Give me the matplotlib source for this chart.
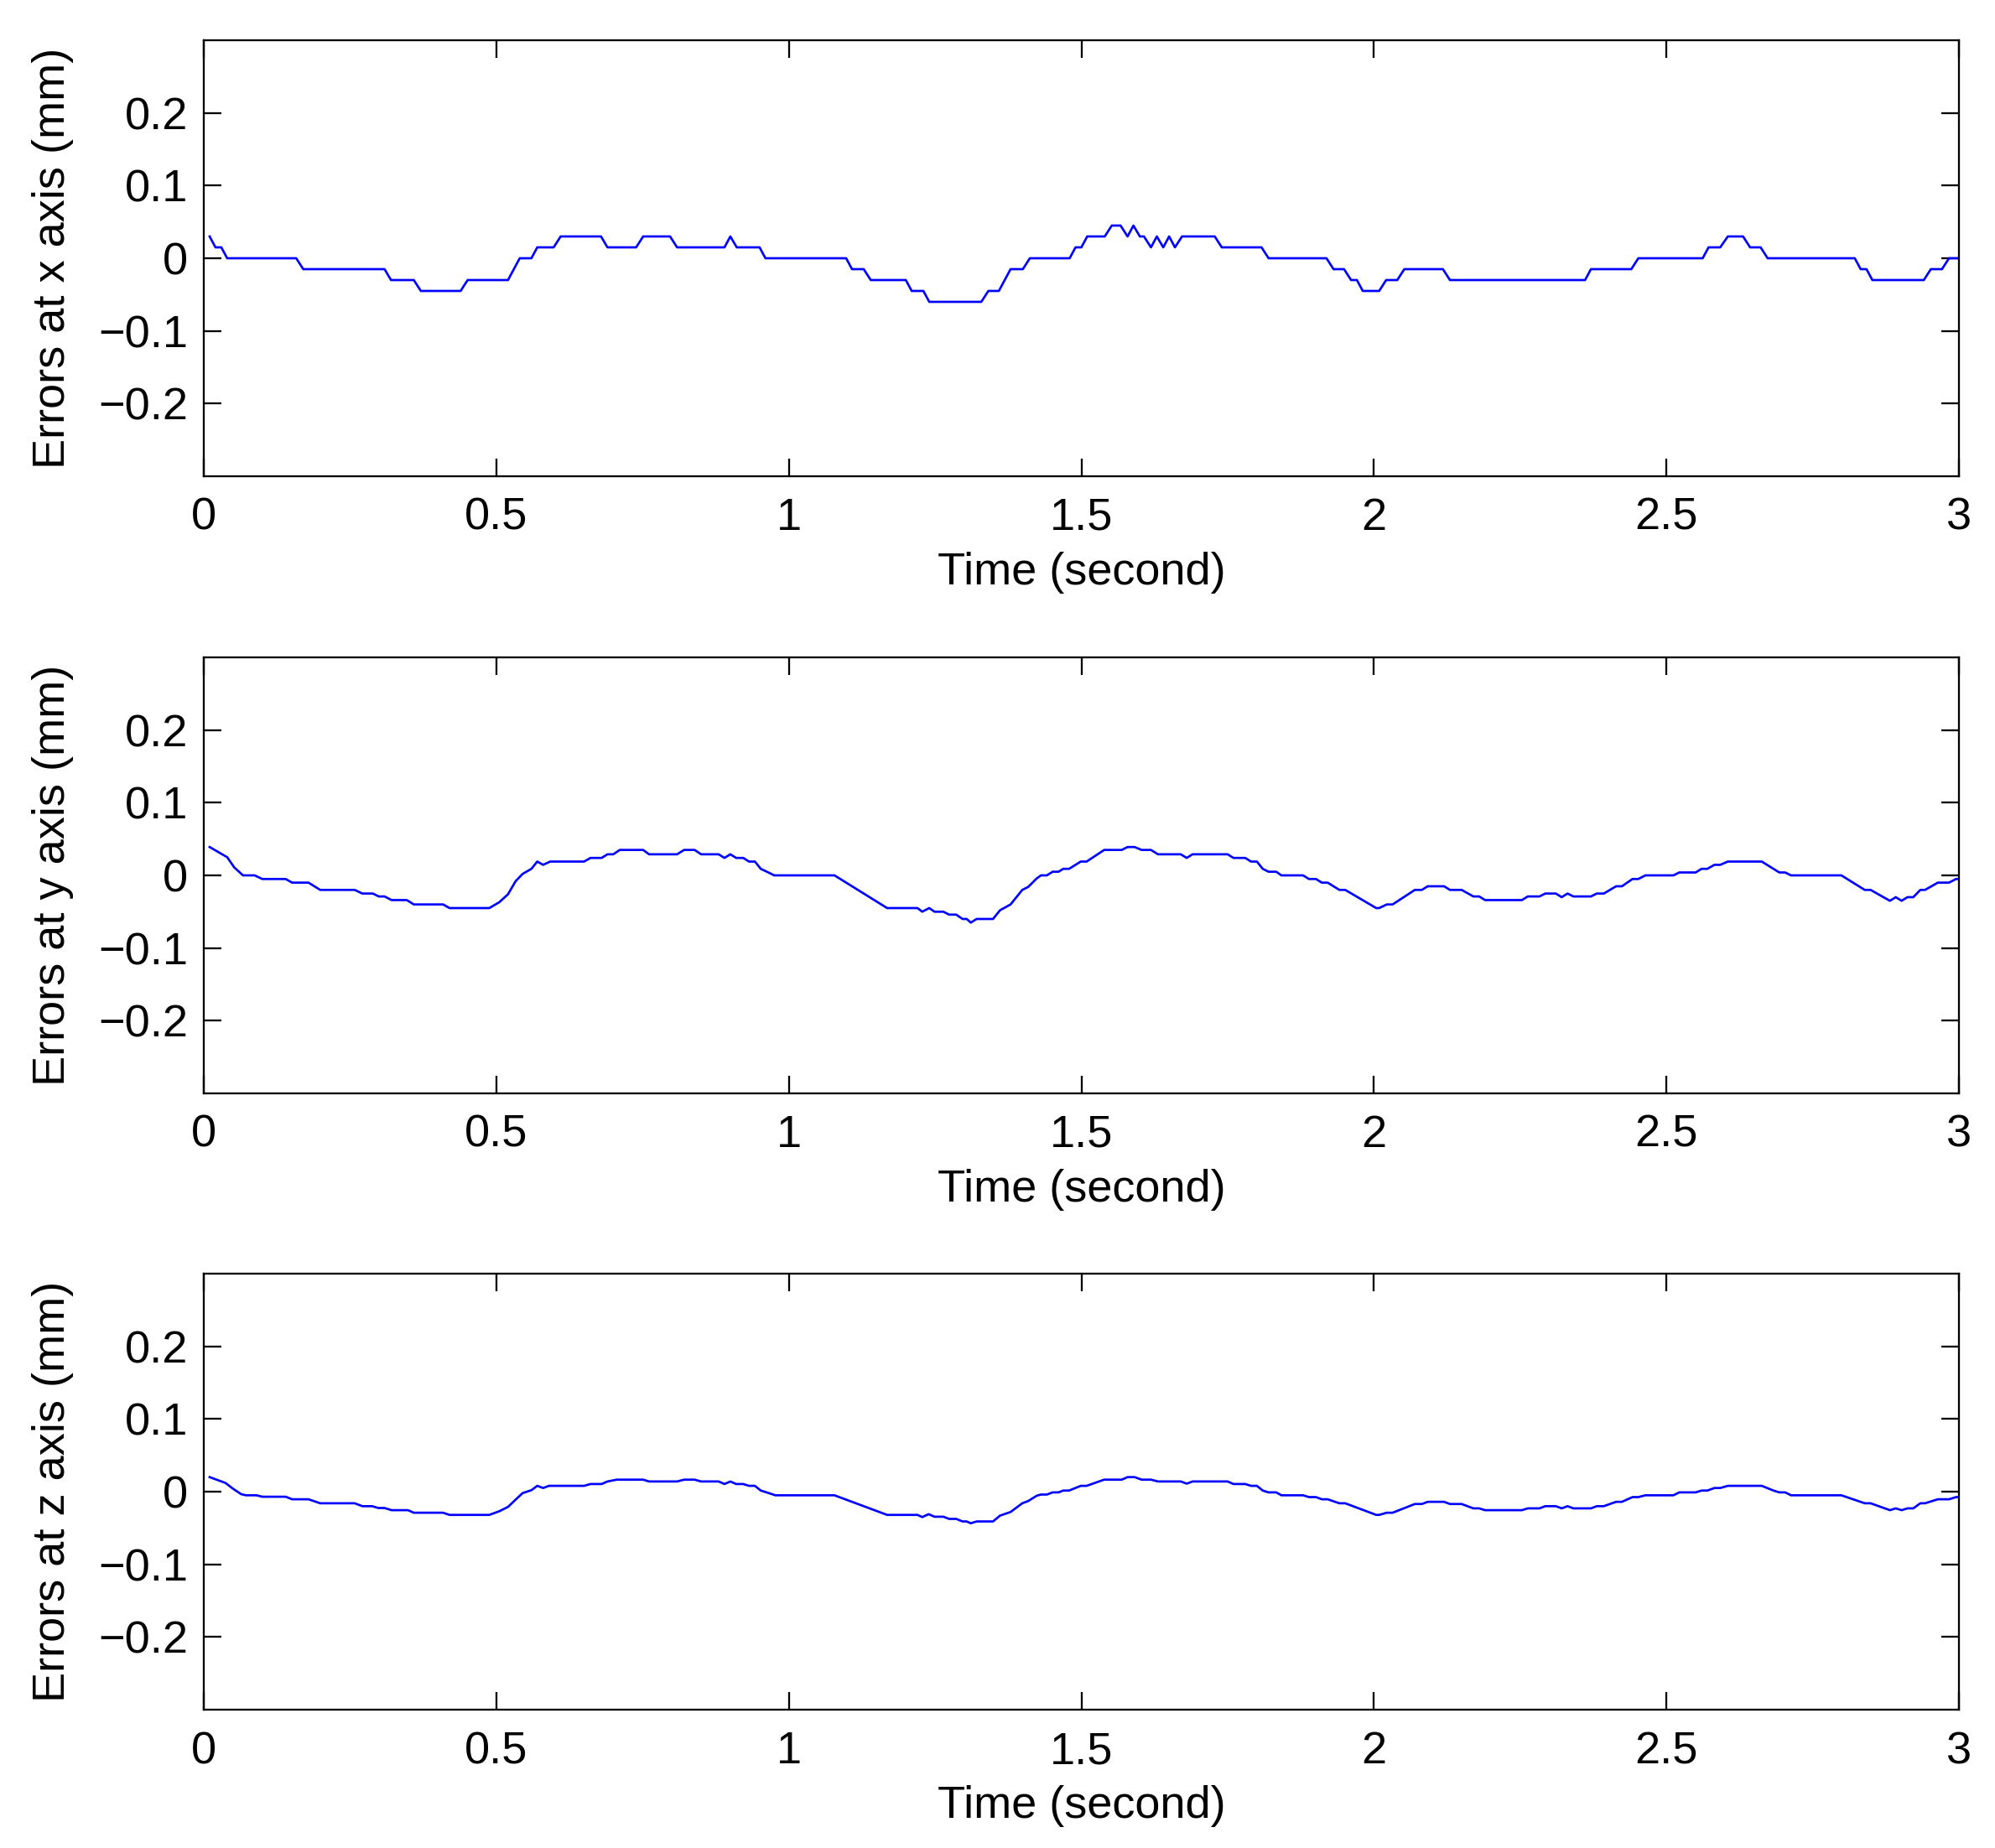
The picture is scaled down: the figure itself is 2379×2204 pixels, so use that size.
import numpy as np
import matplotlib
matplotlib.use('Agg')
from matplotlib import pyplot as plt

# error traces, read as polyline vertices (time in s, error in mm)
t_x = [0.01, 0.02, 0.03, 0.04, 0.158, 0.17, 0.309, 0.32, 0.359, 0.371, 0.439, 0.451,
       0.52, 0.54, 0.56, 0.57, 0.598, 0.61, 0.679, 0.69, 0.739, 0.751, 0.797, 0.809,
       0.89, 0.9, 0.911, 0.95, 0.96, 1.098, 1.108, 1.128, 1.14, 1.2, 1.21, 1.23, 1.24,
       1.329, 1.341, 1.359, 1.379, 1.4, 1.412, 1.48, 1.49, 1.5, 1.51, 1.54, 1.552,
       1.567, 1.579, 1.589, 1.6, 1.607, 1.619, 1.629, 1.64, 1.65, 1.66, 1.672, 1.728,
       1.74, 1.808, 1.82, 1.919, 1.931, 1.949, 1.961, 1.971, 1.981, 2.009, 2.021, 2.04,
       2.052, 2.118, 2.13, 2.361, 2.371, 2.44, 2.452, 2.562, 2.572, 2.592, 2.605, 2.631,
       2.643, 2.661, 2.673, 2.822, 2.832, 2.842, 2.852, 2.94, 2.952, 2.971, 2.983, 3.0]
err_x = [0.03, 0.015, 0.015, 0, 0, -0.015, -0.015, -0.03, -0.03, -0.045, -0.045, -0.03,
         -0.03, 0, 0, 0.015, 0.015, 0.03, 0.03, 0.015, 0.015, 0.03, 0.03, 0.015,
         0.015, 0.03, 0.015, 0.015, 0, 0, -0.015, -0.015, -0.03, -0.03, -0.045, -0.045, -0.06,
         -0.06, -0.045, -0.045, -0.015, -0.015, 0, 0, 0.015, 0.015, 0.03, 0.03, 0.045,
         0.045, 0.03, 0.045, 0.03, 0.03, 0.015, 0.03, 0.015, 0.03, 0.015, 0.03, 0.03,
         0.015, 0.015, 0, 0, -0.015, -0.015, -0.03, -0.03, -0.045, -0.045, -0.03, -0.03,
         -0.015, -0.015, -0.03, -0.03, -0.015, -0.015, 0, 0, 0.015, 0.015, 0.03, 0.03,
         0.015, 0.015, 0, 0, -0.015, -0.015, -0.03, -0.03, -0.015, -0.015, 0, 0]

t_y = [0.01, 0.04, 0.052, 0.067, 0.087, 0.1, 0.14, 0.151, 0.179, 0.199, 0.258, 0.271,
       0.289, 0.299, 0.309, 0.321, 0.347, 0.359, 0.409, 0.42, 0.488, 0.505, 0.52, 0.533,
       0.545, 0.56, 0.57, 0.58, 0.592, 0.65, 0.661, 0.68, 0.69, 0.7, 0.711, 0.751, 0.761,
       0.809, 0.821, 0.839, 0.85, 0.88, 0.89, 0.9, 0.91, 0.922, 0.932, 0.942, 0.952,
       0.965, 0.975, 1.078, 1.168, 1.22, 1.228, 1.24, 1.249, 1.264, 1.274, 1.286, 1.297,
       1.304, 1.311, 1.321, 1.349, 1.361, 1.379, 1.399, 1.409, 1.424, 1.431, 1.441, 1.451,
       1.461, 1.469, 1.479, 1.499, 1.509, 1.539, 1.569, 1.579, 1.591, 1.603, 1.619, 1.631,
       1.67, 1.68, 1.69, 1.75, 1.76, 1.78, 1.79, 1.8, 1.81, 1.82, 1.833, 1.842, 1.879,
       1.889, 1.901, 1.911, 1.921, 1.941, 1.951, 2.004, 2.009, 2.022, 2.032, 2.07, 2.082,
       2.092, 2.12, 2.13, 2.15, 2.17, 2.18, 2.19, 2.253, 2.263, 2.283, 2.293, 2.311, 2.321,
       2.331, 2.341, 2.371, 2.381, 2.393, 2.414, 2.424, 2.442, 2.452, 2.464, 2.512, 2.522,
       2.55, 2.56, 2.57, 2.582, 2.592, 2.605, 2.663, 2.683, 2.693, 2.703, 2.713, 2.799,
       2.839, 2.849, 2.882, 2.892, 2.902, 2.912, 2.922, 2.934, 2.942, 2.964, 2.983, 2.995, 3.0]
err_y = [0.039, 0.025, 0.011, 0, 0, -0.005, -0.005, -0.01, -0.01, -0.02, -0.02, -0.025,
         -0.025, -0.029, -0.029, -0.034, -0.034, -0.04, -0.04, -0.045, -0.045, -0.037, -0.026, -0.008,
         0.002, 0.009, 0.019, 0.0145, 0.019, 0.019, 0.024, 0.024, 0.029, 0.029, 0.035, 0.035, 0.029,
         0.029, 0.035, 0.035, 0.029, 0.029, 0.024, 0.029, 0.024, 0.024, 0.019, 0.019, 0.009,
         0.004, 0, 0, -0.045, -0.045, -0.05, -0.045, -0.05, -0.05, -0.054, -0.054, -0.06,
         -0.06, -0.065, -0.06, -0.06, -0.048, -0.04, -0.02, -0.016, -0.004, 0, 0, 0.005,
         0.005, 0.009, 0.009, 0.019, 0.019, 0.035, 0.035, 0.039, 0.039, 0.035, 0.035, 0.029,
         0.029, 0.024, 0.029, 0.029, 0.024, 0.024, 0.019, 0.019, 0.009, 0.005, 0.005, 0, 0,
         -0.005, -0.005, -0.01, -0.01, -0.02, -0.02, -0.045, -0.045, -0.04, -0.04, -0.02, -0.02,
         -0.015, -0.015, -0.02, -0.02, -0.029, -0.029, -0.034, -0.034, -0.029, -0.029, -0.025, -0.025, -0.03,
         -0.025, -0.029, -0.029, -0.025, -0.025, -0.015, -0.015, -0.005, -0.005, 0, 0, 0.004,
         0.004, 0.009, 0.009, 0.0145, 0.0145, 0.019, 0.019, 0.009, 0.004, 0.004, 0, 0,
         -0.02, -0.02, -0.035, -0.03, -0.035, -0.03, -0.03, -0.02, -0.02, -0.01, -0.01, -0.005, -0.005]

t_z = [0.01, 0.037, 0.05, 0.064, 0.072, 0.09, 0.1, 0.14, 0.151, 0.179, 0.199, 0.258,
       0.271, 0.288, 0.298, 0.309, 0.321, 0.349, 0.359, 0.409, 0.42, 0.488, 0.505, 0.52,
       0.533, 0.545, 0.56, 0.57, 0.58, 0.59, 0.65, 0.661, 0.68, 0.69, 0.706, 0.751, 0.761,
       0.809, 0.821, 0.839, 0.85, 0.88, 0.89, 0.9, 0.91, 0.922, 0.932, 0.942, 0.952,
       0.962, 0.977, 1.078, 1.168, 1.22, 1.228, 1.239, 1.249, 1.264, 1.274, 1.286, 1.297,
       1.304, 1.311, 1.321, 1.349, 1.361, 1.379, 1.399, 1.409, 1.424, 1.431, 1.441, 1.451,
       1.461, 1.469, 1.479, 1.499, 1.509, 1.539, 1.569, 1.579, 1.591, 1.603, 1.619, 1.631,
       1.67, 1.68, 1.69, 1.75, 1.76, 1.78, 1.79, 1.8, 1.81, 1.82, 1.833, 1.842, 1.879,
       1.889, 1.901, 1.911, 1.921, 1.941, 1.951, 2.004, 2.009, 2.022, 2.032, 2.07, 2.082,
       2.092, 2.12, 2.13, 2.15, 2.17, 2.18, 2.19, 2.253, 2.263, 2.283, 2.293, 2.311, 2.321,
       2.331, 2.341, 2.371, 2.381, 2.393, 2.414, 2.424, 2.442, 2.452, 2.464, 2.512, 2.522,
       2.55, 2.56, 2.57, 2.582, 2.592, 2.605, 2.663, 2.683, 2.693, 2.703, 2.713, 2.799,
       2.839, 2.849, 2.882, 2.892, 2.902, 2.912, 2.922, 2.934, 2.942, 2.964, 2.983, 2.995, 3.0]
err_z = [0.02, 0.012, 0.004, -0.0035, -0.005, -0.005, -0.007, -0.007, -0.0105, -0.0105, -0.016, -0.016,
         -0.02, -0.02, -0.0225, -0.0225, -0.0255, -0.0255, -0.029, -0.029, -0.032, -0.032, -0.027, -0.021,
         -0.011, -0.002, 0.002, 0.008, 0.005, 0.008, 0.008, 0.0105, 0.0105, 0.014, 0.0165, 0.0165, 0.014,
         0.014, 0.0165, 0.0165, 0.014, 0.014, 0.0105, 0.014, 0.0105, 0.0105, 0.008, 0.008, 0.0015,
         -0.001, -0.005, -0.005, -0.032, -0.032, -0.035, -0.031, -0.0345, -0.0345, -0.0375, -0.0375, -0.041,
         -0.041, -0.0435, -0.041, -0.041, -0.033, -0.028, -0.016, -0.013, -0.0055, -0.004, -0.004, -0.001,
         -0.001, 0.0015, 0.0015, 0.008, 0.008, 0.0165, 0.0165, 0.02, 0.02, 0.0165, 0.0165, 0.014,
         0.014, 0.011, 0.014, 0.014, 0.0105, 0.0105, 0.008, 0.008, 0.0015, -0.001, -0.001, -0.005, -0.005,
         -0.0075, -0.0075, -0.0105, -0.0105, -0.016, -0.016, -0.032, -0.032, -0.029, -0.029, -0.017, -0.017,
         -0.014, -0.014, -0.017, -0.017, -0.023, -0.023, -0.0255, -0.0255, -0.023, -0.023, -0.02, -0.02, -0.023,
         -0.02, -0.023, -0.023, -0.02, -0.02, -0.014, -0.014, -0.0075, -0.0075, -0.005, -0.005, -0.001,
         -0.001, 0.0015, 0.0015, 0.005, 0.005, 0.008, 0.008, 0.0015, -0.001, -0.001, -0.005, -0.005,
         -0.016, -0.016, -0.0255, -0.023, -0.0255, -0.023, -0.023, -0.016, -0.016, -0.0105, -0.0105, -0.0075, -0.0075]

y_ticks = [-0.2, -0.1, 0, 0.1, 0.2]
y_tick_labels = ['\u22120.2', '\u22120.1', '0', '0.1', '0.2']
x_ticks = [0, 0.5, 1, 1.5, 2, 2.5, 3]
x_tick_labels = ['0', '0.5', '1', '1.5', '2', '2.5', '3']
y_labels = ['Errors at x axis (mm)', 'Errors at y axis (mm)', 'Errors at z axis (mm)']

plt.rcParams['font.family'] = ['Liberation Sans', 'DejaVu Sans']
plt.rcParams['font.size'] = 13

W, H = 2379, 2204
fig = plt.figure(figsize=(W / 300, H / 300), dpi=300)

# axes boxes in pixels: (top, bottom)
boxes = [(48, 568), (784, 1304), (1519, 2039)]
left_px, right_px = 243, 2336
series = [(t_x, err_x), (t_y, err_y), (t_z, err_z)]

for (top, bottom), (tt, ee), ylab in zip(boxes, series, y_labels):
    ax = fig.add_axes([left_px / W, 1 - bottom / H, (right_px - left_px) / W, (bottom - top) / H])
    ax.plot(tt, ee, color='#0000ff', linewidth=0.65)
    ax.set_xlim(0, 3)
    ax.set_ylim(-0.3, 0.3)
    ax.set_xticks(x_ticks)
    ax.set_xticklabels(x_tick_labels)
    ax.set_yticks(y_ticks)
    ax.set_yticklabels(y_tick_labels)
    ax.tick_params(direction='in', length=5, width=0.55, top=True, right=True)
    ax.tick_params(axis='x', pad=6)
    ax.tick_params(axis='y', pad=4.5)
    for s in ax.spines.values():
        s.set_linewidth(0.55)
    ax.set_xlabel('Time (second)', labelpad=3.5)
    ax.set_ylabel(ylab, labelpad=7)

fig.savefig('out.png', dpi=300)
